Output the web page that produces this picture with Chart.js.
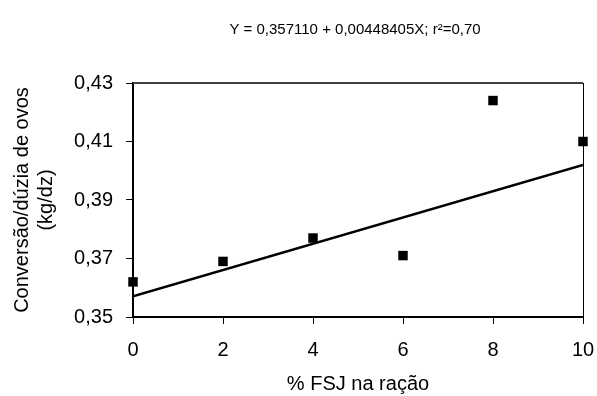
<!DOCTYPE html>
<html><head><meta charset="utf-8">
<script src="https://cdn.jsdelivr.net/npm/chart.js@4"></script>
<style>html,body{margin:0;padding:0;background:#fff}#w{width:597px;height:396px;position:relative}</style>
</head><body><div id="w"><canvas id="c"></canvas></div>
<script>
const titleText = "Y = 0,357110 + 0,00448405X; r\u00B2=0,70";
const xLabel = "% FSJ na ração";
const yLabel = ["Conversão/dúzia de ovos", "(kg/dz)"];
const fsjLevels = [0, 2, 4, 6, 8, 10];
const conversion = [0.362, 0.369, 0.377, 0.371, 0.424, 0.410];
const trendX = [0, 10];
const trendY = [0.35711, 0.40195];
const xTicks = [0, 2, 4, 6, 8, 10];
const yTicks = [0.35, 0.37, 0.39, 0.41, 0.43];

const FONT = "'Liberation Sans', Arial, sans-serif";
const framePlugin = {
  id: 'frame',
  afterDraw(chart) {
    const {ctx, chartArea: a} = chart;
    ctx.save();
    ctx.strokeStyle = '#404040'; ctx.lineWidth = 2;
    ctx.beginPath(); ctx.moveTo(a.left, a.top); ctx.lineTo(a.right, a.top); ctx.stroke();
    ctx.strokeStyle = '#000'; ctx.lineWidth = 1;
    ctx.beginPath(); ctx.moveTo(a.right + 0.5, a.top); ctx.lineTo(a.right + 0.5, a.bottom); ctx.stroke();
    ctx.fillStyle = '#000'; ctx.textAlign = 'center'; ctx.textBaseline = 'middle';
    ctx.font = "15px " + FONT;
    ctx.fillText(titleText, 355, 30);
    ctx.font = "20px " + FONT;
    ctx.fillText(xLabel, (a.left + a.right) / 2, 384);
    ctx.translate(0, (a.top + a.bottom) / 2);
    ctx.rotate(-Math.PI / 2);
    ctx.fillText(yLabel[0], 0, 22);
    ctx.fillText(yLabel[1], 0, 46);
    ctx.restore();
  }
};

new Chart(document.getElementById('c'), {
  type: 'scatter',
  data: {
    datasets: [
      { type: 'line', data: trendX.map((x, i) => ({x, y: trendY[i]})), borderColor: '#000', borderWidth: 2.5, pointRadius: 0, fill: false, order: 2 },
      { data: fsjLevels.map((x, i) => ({x, y: conversion[i]})), pointStyle: 'rect', pointRadius: 6.7, pointHoverRadius: 6.7, backgroundColor: '#000', borderColor: '#000', borderWidth: 0, clip: false, order: 1 }
    ]
  },
  options: {
    responsive: true, maintainAspectRatio: false, animation: false,
    layout: { padding: { top: 83, right: 14, left: 0, bottom: 0 } },
    plugins: { legend: { display: false }, tooltip: { enabled: false } },
    scales: {
      x: {
        type: 'linear', min: 0, max: 10,
        afterBuildTicks: s => { s.ticks = xTicks.map(v => ({value: v})); },
        afterFit: s => { s.height = 79; s.paddingRight = 0; s.paddingLeft = 0; },
        grid: { drawOnChartArea: false, tickLength: 7, color: '#000', lineWidth: 1 },
        border: { color: '#000', width: 2 },
        ticks: { color: '#000', font: { family: FONT, size: 20 }, padding: 14, maxRotation: 0, callback: v => String(v) }
      },
      y: {
        min: 0.35, max: 0.43,
        afterBuildTicks: s => { s.ticks = yTicks.map(v => ({value: v})); },
        afterFit: s => { s.width = 133; s.paddingTop = 0; s.paddingBottom = 0; },
        grid: { drawOnChartArea: false, tickLength: 7, color: '#000', lineWidth: 1 },
        border: { color: '#000', width: 2 },
        ticks: { color: '#000', font: { family: FONT, size: 20 }, padding: 13, callback: v => v.toFixed(2).replace('.', ',') }
      }
    }
  },
  plugins: [framePlugin]
});
</script></body></html>
